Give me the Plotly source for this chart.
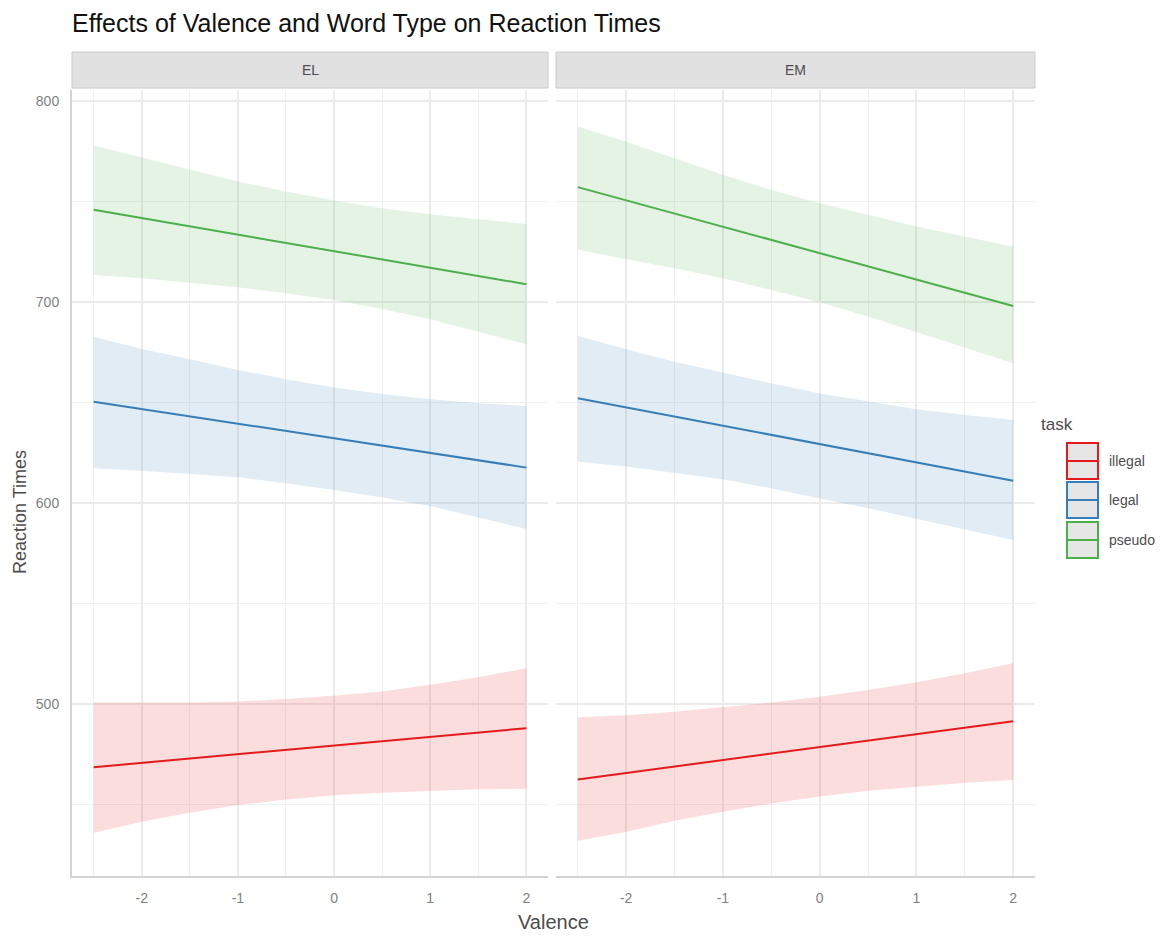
import plotly.graph_objects as go

# ---------------- data ----------------
valence = [-2.5, -2, -1.5, -1, -0.5, 0, 0.5, 1, 1.5, 2]
valence_ends = [-2.5, 2]
panels = ["EL", "EM"]
tasks = ["illegal", "legal", "pseudo"]

EL_illegal_fit = [468.6, 488.0]
EL_illegal_lower = [436.0, 441.5, 446.0, 449.8, 452.6, 454.7, 455.9, 456.9, 457.6, 457.9]
EL_illegal_upper = [500.8, 500.8, 500.8, 501.3, 502.5, 504.1, 506.3, 509.6, 513.3, 517.8]
EL_legal_fit = [650.4, 617.6]
EL_legal_lower = [617.3, 616.1, 614.4, 612.8, 609.8, 606.5, 602.8, 598.5, 592.9, 587.1]
EL_legal_upper = [682.7, 676.6, 671.5, 666.2, 661.5, 657.4, 654.2, 651.6, 649.6, 648.3]
EL_pseudo_fit = [745.8, 708.8]
EL_pseudo_lower = [713.4, 711.8, 709.6, 707.3, 704.3, 701.0, 696.5, 691.4, 685.2, 678.9]
EL_pseudo_upper = [777.8, 771.8, 766.0, 759.9, 754.9, 750.4, 746.6, 743.6, 741.1, 738.8]

EM_illegal_fit = [462.5, 491.5]
EM_illegal_lower = [432.0, 436.5, 442.0, 446.5, 450.6, 454.0, 456.9, 458.9, 460.9, 462.2]
EM_illegal_upper = [493.4, 494.5, 496.2, 498.4, 500.8, 503.6, 507.0, 510.8, 515.3, 520.3]
EM_legal_fit = [652.1, 611.1]
EM_legal_lower = [620.6, 618.1, 615.1, 611.8, 607.3, 602.3, 597.4, 592.4, 586.9, 581.6]
EM_legal_upper = [683.1, 676.5, 670.3, 664.8, 659.5, 654.5, 650.4, 646.6, 643.8, 641.3]
EM_pseudo_fit = [757.1, 698.0]
EM_pseudo_lower = [725.9, 721.4, 716.8, 711.8, 706.0, 699.9, 692.7, 685.2, 677.3, 669.5]
EM_pseudo_upper = [787.2, 779.7, 771.5, 763.2, 755.7, 749.1, 743.3, 737.5, 732.5, 727.5]

x_ticks = [-2, -1, 0, 1, 2]
x_tick_labels = ["-2", "-1", "0", "1", "2"]
x_minor = [-2.5, -1.5, -0.5, 0.5, 1.5]
y_ticks = [500, 600, 700, 800]
y_minor = [450, 550, 650, 750]

# ---------------- styling ----------------
line_colors = {"illegal": "#E41A1C", "legal": "#377EB8", "pseudo": "#4DAF4A"}
fill_colors = {"illegal": "rgba(228,26,28,0.15)", "legal": "rgba(55,126,184,0.15)",
               "pseudo": "rgba(77,175,74,0.15)"}
FONT = "Liberation Sans, Arial, Helvetica, sans-serif"

series = {
    ("EL", "illegal"): (EL_illegal_fit, EL_illegal_lower, EL_illegal_upper),
    ("EL", "legal"): (EL_legal_fit, EL_legal_lower, EL_legal_upper),
    ("EL", "pseudo"): (EL_pseudo_fit, EL_pseudo_lower, EL_pseudo_upper),
    ("EM", "illegal"): (EM_illegal_fit, EM_illegal_lower, EM_illegal_upper),
    ("EM", "legal"): (EM_legal_fit, EM_legal_lower, EM_legal_upper),
    ("EM", "pseudo"): (EM_pseudo_fit, EM_pseudo_lower, EM_pseudo_upper),
}

fig = go.Figure()
axis_ids = {"EL": ("x", "y"), "EM": ("x2", "y2")}

for panel in panels:
    xa, ya = axis_ids[panel]
    for task in tasks:
        fit, lo, up = series[(panel, task)]
        fig.add_trace(go.Scatter(
            x=valence + valence[::-1], y=up + lo[::-1], fill="toself",
            fillcolor=fill_colors[task], line=dict(width=0), mode="lines",
            hoverinfo="skip", showlegend=False, xaxis=xa, yaxis=ya))
    for task in tasks:
        fit, lo, up = series[(panel, task)]
        fig.add_trace(go.Scatter(
            x=valence_ends, y=fit, mode="lines", name=task,
            line=dict(color=line_colors[task], width=2),
            showlegend=False, xaxis=xa, yaxis=ya))

# ---------------- layout geometry (page pixels; page body has 8px margin) ----------------
OFF = 8
W_FIG, H_FIG = 1175 - OFF, 936 - OFF
L, R, T, B = 72, 1035, 90, 876   # plot area in page pixels
PW, PH = R - L, B - T


def pxx(x):
    return (x - L) / PW


def pyy(y):
    return (B - y) / PH


grid_major = "#EBEBEB"
grid_minor = "#F0F0F0"
xcommon = dict(range=[-2.725, 2.225], tickmode="array", tickvals=x_ticks,
               ticktext=x_tick_labels,
               showgrid=True, gridcolor=grid_major, gridwidth=1.6,
               minor=dict(tickmode="array", tickvals=x_minor,
                          showgrid=True, gridcolor=grid_minor, gridwidth=1.2),
               zeroline=False, showline=True, linecolor="#D4D4D4", linewidth=2,
               ticks="", ticklabelstandoff=8,
               tickfont=dict(family=FONT, size=14, color="#7F7F7F"))
ycommon = dict(range=[414.5, 805.4], tickmode="array", tickvals=y_ticks,
               showgrid=True, gridcolor=grid_major, gridwidth=1.6,
               minor=dict(tickmode="array", tickvals=y_minor,
                          showgrid=True, gridcolor=grid_minor, gridwidth=1.2),
               zeroline=False, ticks="",
               tickfont=dict(family=FONT, size=14, color="#7F7F7F"))

fig.update_layout(
    width=W_FIG, height=H_FIG, autosize=False,
    margin=dict(l=L - OFF, r=1175 - R, t=T - OFF, b=936 - B),
    paper_bgcolor="white", plot_bgcolor="white",
    xaxis=dict(domain=[0, pxx(548)], anchor="y", **xcommon),
    xaxis2=dict(domain=[pxx(556), 1], anchor="y2", **xcommon),
    yaxis=dict(domain=[0, 1], anchor="x", showline=True, linecolor="#D4D4D4",
               linewidth=2, ticklabelstandoff=8, **ycommon),
    yaxis2=dict(domain=[0, 1], anchor="x2", showline=False, showticklabels=False,
                **ycommon),
    title=dict(text="Effects of Valence and Word Type on Reaction Times",
               x=0, xref="paper", xanchor="left",
               y=1 - (23 - OFF) / H_FIG, yref="container", yanchor="middle",
               font=dict(family=FONT, size=25, color="#111111")),
    showlegend=False,
)

shapes = []
annotations = []

# facet strips
for panel, (xa, _) in axis_ids.items():
    shapes.append(dict(type="rect", xref=f"{xa} domain", yref="paper",
                       x0=0, x1=1, y0=pyy(88), y1=pyy(52),
                       fillcolor="#E1E1E1", line=dict(color="#CACACA", width=1)))
    annotations.append(dict(text=panel, xref=f"{xa} domain", yref="paper",
                            x=0.5, y=pyy(70), xanchor="center", yanchor="middle",
                            showarrow=False,
                            font=dict(family=FONT, size=14, color="#4D4D4D")))

# axis titles
annotations.append(dict(text="Valence", xref="paper", yref="paper",
                        x=pxx(553), y=pyy(922), xanchor="center", yanchor="middle",
                        showarrow=False,
                        font=dict(family=FONT, size=20, color="#4D4D4D")))
annotations.append(dict(text="Reaction Times", xref="paper", yref="paper",
                        x=pxx(20), y=pyy(512), xanchor="center", yanchor="middle",
                        showarrow=False, textangle=-90,
                        font=dict(family=FONT, size=18, color="#4D4D4D")))

# legend (drawn like ggplot's key boxes)
annotations.append(dict(text="task", xref="paper", yref="paper",
                        x=pxx(1039), y=pyy(425), xanchor="left", yanchor="middle",
                        showarrow=False,
                        font=dict(family=FONT, size=17, color="#4D4D4D")))
key_tops = [443, 482, 522]
for task, top in zip(tasks, key_tops):
    bottom = top + 36
    mid = (top + bottom) / 2
    shapes.append(dict(type="rect", xref="paper", yref="paper",
                       x0=pxx(1067), x1=pxx(1098), y0=pyy(bottom), y1=pyy(top),
                       fillcolor="#E6E6E6", line=dict(color=line_colors[task], width=2)))
    shapes.append(dict(type="line", xref="paper", yref="paper",
                       x0=pxx(1068), x1=pxx(1097), y0=pyy(mid), y1=pyy(mid),
                       line=dict(color=line_colors[task], width=2)))
    annotations.append(dict(text=task, xref="paper", yref="paper",
                            x=pxx(1107), y=pyy(mid), xanchor="left", yanchor="middle",
                            showarrow=False,
                            font=dict(family=FONT, size=14, color="#4D4D4D")))

fig.update_layout(shapes=shapes, annotations=annotations)
fig.write_html("out.html")
